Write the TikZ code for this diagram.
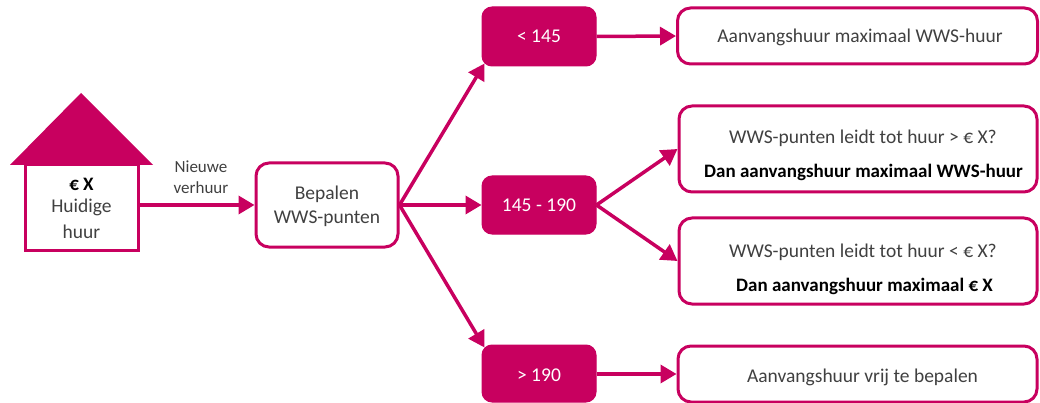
\documentclass[tikz,border=0pt]{standalone}
\usepackage{fontspec}
\setmainfont{Carlito}
\usetikzlibrary{arrows.meta,calc}
\definecolor{mag}{RGB}{200,0,95}
\definecolor{txt}{RGB}{64,64,64}
\tikzset{
  wbox/.style={draw=mag,line width=3pt,rounded corners=13pt,fill=white,inner sep=0pt},
  fbox/.style={draw=mag,fill=mag,line width=1pt,rounded corners=10pt,inner sep=0pt},
  lbl/.style={anchor=base,inner sep=0pt,text=txt,font=\fontsize{19.5}{23}\selectfont},
  blbl/.style={anchor=base,inner sep=0pt,text=black,font=\fontsize{19}{23}\selectfont\bfseries},
  wlbl/.style={anchor=base,inner sep=0pt,text=white,font=\fontsize{19.5}{23}\selectfont},
  slbl/.style={anchor=base,inner sep=0pt,text=txt,font=\fontsize{17}{20}\selectfont},
  arr/.style={draw=mag,line width=3.5pt,-{Triangle[length=16pt,width=18pt]}},
}
\begin{document}
\begin{tikzpicture}[x=1pt,y=-1pt]
\useasboundingbox (0,0) rectangle (1040,403);
% house
\fill[mag] (10,165) -- (81,93) -- (153,165) -- cycle;
\node[draw=mag,line width=3pt,fill=white,minimum width=113pt,minimum height=85pt,inner sep=0pt] (house) at (81.5,207.5) {};
\node[blbl] (hx) at (81.5,191) {€ X};
\node[lbl] (hh) at (81.5,213) {Huidige};
\node[lbl] (hu) at (81.5,238) {huur};
% bepalen
\node[wbox,minimum width=142pt,minimum height=84pt] (bep) at (327,205) {};
\node[lbl] (bep1) at (327,200) {Bepalen};
\node[lbl] (bep2) at (327,223) {WWS-punten};
% middle filled boxes
\node[fbox,minimum width=114pt,minimum height=59pt] (lt) at (539,36.5) {};
\node[wlbl] (ltt) at (539,43) {< 145};
\node[fbox,minimum width=114pt,minimum height=58pt] (mid) at (539,205) {};
\node[wlbl] (midt) at (539,212) {145 - 190};
\node[fbox,minimum width=114pt,minimum height=57pt] (gt) at (539,373.5) {};
\node[wlbl] (gtt) at (539,381) {> 190};
% right boxes
\node[wbox,minimum width=360pt,minimum height=56pt] (r1) at (857.5,36) {};
\node[lbl] (r1t) at (860,43) {Aanvangshuur maximaal WWS-huur};
\node[wbox,minimum width=358pt,minimum height=86pt] (r2) at (858,149) {};
\node[lbl] (r2a) at (863,144) {WWS-punten leidt tot huur > € X?};
\node[blbl] (r2b) at (863.5,178) {Dan aanvangshuur maximaal WWS-huur};
\node[wbox,minimum width=358pt,minimum height=86pt] (r3) at (858,261) {};
\node[lbl] (r3a) at (863,257) {WWS-punten leidt tot huur < € X?};
\node[blbl] (r3b) at (864.5,291) {Dan aanvangshuur maximaal € X};
\node[wbox,minimum width=359pt,minimum height=56pt] (r4) at (857.5,374) {};
\node[lbl] (r4t) at (862.5,382) {Aanvangshuur vrij te bepalen};
% arrows
\draw[arr] (house.east |- bep.west) -- (bep.west);
\node[slbl] (nv1) at (201,173) {Nieuwe};
\node[slbl] (nv2) at (201,194) {verhuur};
\draw[arr] (bep.east) -- ($(lt.south west)+(3,-3)$);
\draw[arr] (bep.east) -- (mid.west);
\draw[arr] (bep.east) -- ($(gt.north west)+(3,3)$);
\draw[arr] (lt.east) -- (r1.west);
\draw[arr] (mid.east) -- (r2.west);
\draw[arr] (mid.east) -- (r3.west);
\draw[arr] (gt.east |- r4.west) -- (r4.west);
\end{tikzpicture}
\end{document}
